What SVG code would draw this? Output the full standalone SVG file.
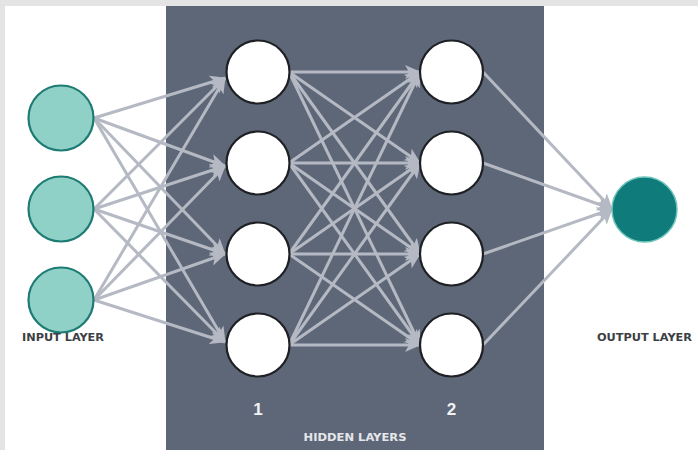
<svg xmlns="http://www.w3.org/2000/svg" width="698" height="450" viewBox="0 0 698 450">
  <style>
    .edge { stroke: #b5b9c3; stroke-width: 3; fill: none; marker-end: url(#arrow); }
    .in { fill: #8fd0c7; stroke: #1d7b74; stroke-width: 2.2; }
    .hid { fill: #ffffff; stroke: #1e2024; stroke-width: 2.2; }
    .out { fill: #0f7c7b; stroke: #6cc4ba; stroke-width: 1.5; }
    .lbl { font-family: "DejaVu Sans Condensed", "Liberation Sans", sans-serif; font-weight: bold; font-size: 11px; fill: #3c3f44; }
    .num { font-family: "Liberation Sans", sans-serif; font-weight: bold; font-size: 17px; fill: #f2f3f5; text-anchor: middle; }
    .hl { font-family: "DejaVu Sans Condensed", "Liberation Sans", sans-serif; font-weight: bold; font-size: 11px; fill: #e4e6ea; text-anchor: middle; }
  </style>
  <defs>
    <marker id="arrow" markerUnits="userSpaceOnUse" markerWidth="16" markerHeight="14" refX="15" refY="7" orient="auto">
      <path d="M0,0 L16,7 L0,14 L4,7 z" fill="#b5b9c3"/>
    </marker>
  </defs>

  <!-- frame and panel -->
  <rect x="0" y="0" width="698" height="450" fill="#e4e4e4"/>
  <rect x="5" y="6" width="693" height="444" fill="#ffffff"/>
  <rect x="166" y="6" width="378" height="444" fill="#5e6777"/>

  <!-- connectors -->
  <g id="connectors">
    <!-- input to hidden 1 -->
    <line class="edge" x1="94" y1="118" x2="225" y2="78"/>
    <line class="edge" x1="94" y1="118" x2="225" y2="166"/>
    <line class="edge" x1="94" y1="118" x2="225" y2="254"/>
    <line class="edge" x1="94" y1="118" x2="225" y2="342"/>
    <line class="edge" x1="94" y1="209" x2="225" y2="78"/>
    <line class="edge" x1="94" y1="209" x2="225" y2="166"/>
    <line class="edge" x1="94" y1="209" x2="225" y2="254"/>
    <line class="edge" x1="94" y1="209" x2="225" y2="342"/>
    <line class="edge" x1="94" y1="300" x2="225" y2="78"/>
    <line class="edge" x1="94" y1="300" x2="225" y2="166"/>
    <line class="edge" x1="94" y1="300" x2="225" y2="254"/>
    <line class="edge" x1="94" y1="300" x2="225" y2="342"/>
    <!-- hidden 1 to hidden 2 -->
    <line class="edge" x1="289" y1="72" x2="420" y2="72"/>
    <line class="edge" x1="289" y1="72" x2="420" y2="163"/>
    <line class="edge" x1="289" y1="72" x2="420" y2="254"/>
    <line class="edge" x1="289" y1="72" x2="420" y2="345"/>
    <line class="edge" x1="289" y1="163" x2="420" y2="72"/>
    <line class="edge" x1="289" y1="163" x2="420" y2="163"/>
    <line class="edge" x1="289" y1="163" x2="420" y2="254"/>
    <line class="edge" x1="289" y1="163" x2="420" y2="345"/>
    <line class="edge" x1="289" y1="254" x2="420" y2="72"/>
    <line class="edge" x1="289" y1="254" x2="420" y2="163"/>
    <line class="edge" x1="289" y1="254" x2="420" y2="254"/>
    <line class="edge" x1="289" y1="254" x2="420" y2="345"/>
    <line class="edge" x1="289" y1="345" x2="420" y2="72"/>
    <line class="edge" x1="289" y1="345" x2="420" y2="163"/>
    <line class="edge" x1="289" y1="345" x2="420" y2="254"/>
    <line class="edge" x1="289" y1="345" x2="420" y2="345"/>
    <!-- hidden 2 to output -->
    <line class="edge" x1="483" y1="72" x2="612" y2="209"/>
    <line class="edge" x1="483" y1="163" x2="612" y2="209"/>
    <line class="edge" x1="483" y1="254" x2="612" y2="209"/>
    <line class="edge" x1="483" y1="345" x2="612" y2="209"/>
  </g>

  <!-- input layer -->
  <g id="in1"><circle class="in" cx="61" cy="118" r="32.5"/></g>
  <g id="in2"><circle class="in" cx="61" cy="209" r="32.5"/></g>
  <g id="in3"><circle class="in" cx="61" cy="300" r="32.5"/></g>

  <!-- hidden layer 1 -->
  <g id="h1a"><circle class="hid" cx="258" cy="72" r="31.5"/></g>
  <g id="h1b"><circle class="hid" cx="258" cy="163" r="31.5"/></g>
  <g id="h1c"><circle class="hid" cx="258" cy="254" r="31.5"/></g>
  <g id="h1d"><circle class="hid" cx="258" cy="345" r="31.5"/></g>

  <!-- hidden layer 2 -->
  <g id="h2a"><circle class="hid" cx="451.5" cy="72" r="31.5"/></g>
  <g id="h2b"><circle class="hid" cx="451.5" cy="163" r="31.5"/></g>
  <g id="h2c"><circle class="hid" cx="451.5" cy="254" r="31.5"/></g>
  <g id="h2d"><circle class="hid" cx="451.5" cy="345" r="31.5"/></g>

  <!-- output layer -->
  <g id="out1"><circle class="out" cx="644.5" cy="209.5" r="32.5"/></g>

  <!-- labels -->
  <text class="lbl" x="22" y="341" textLength="82" lengthAdjust="spacingAndGlyphs">INPUT LAYER</text>
  <text class="lbl" x="597" y="341" textLength="95" lengthAdjust="spacingAndGlyphs">OUTPUT LAYER</text>
  <text class="num" x="258" y="415">1</text>
  <text class="num" x="451.5" y="415">2</text>
  <text class="hl" x="355" y="441" textLength="103" lengthAdjust="spacingAndGlyphs">HIDDEN LAYERS</text>
</svg>
